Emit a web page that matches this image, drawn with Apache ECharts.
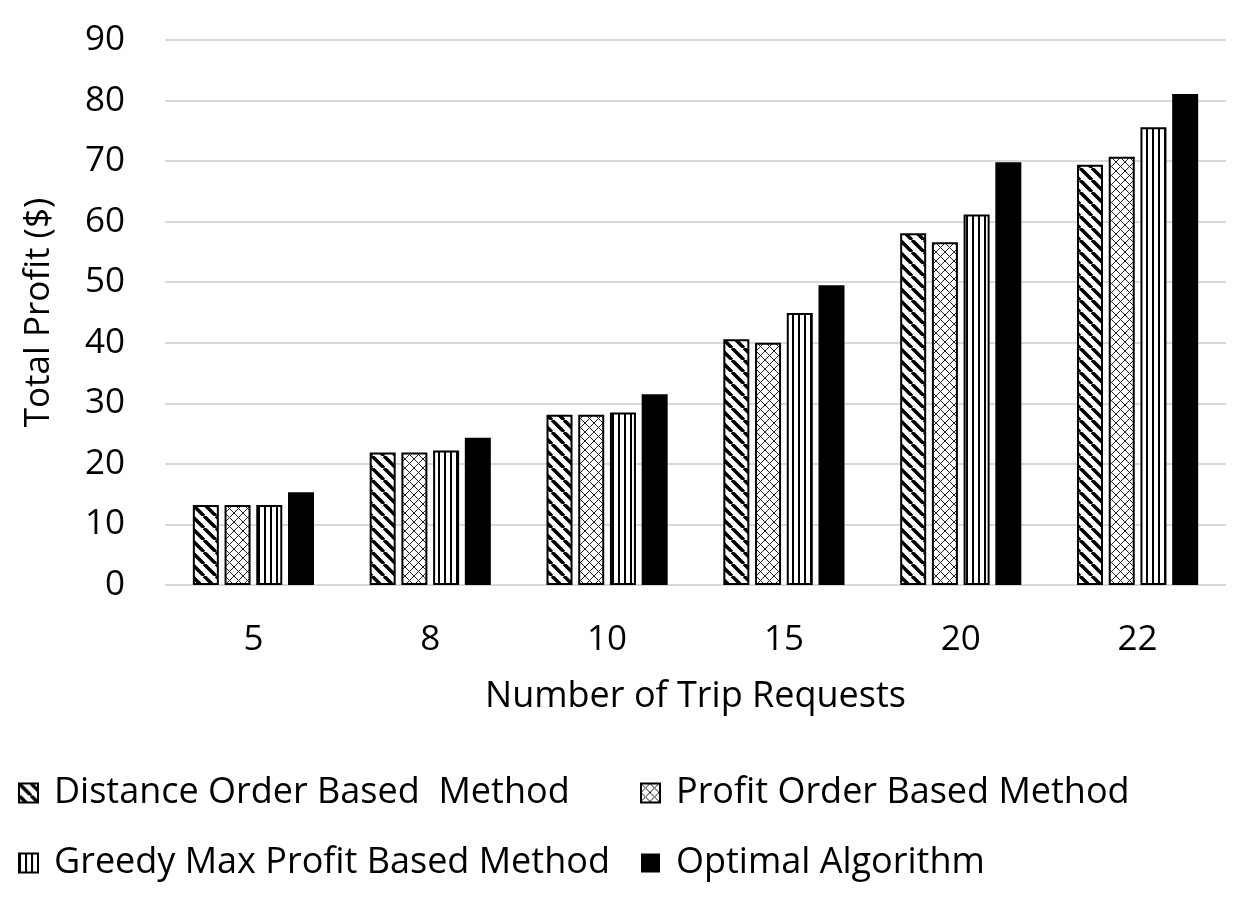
<!DOCTYPE html>
<html>
<head>
<meta charset="utf-8">
<script src="https://cdn.jsdelivr.net/npm/echarts@6/dist/echarts.min.js"></script>
<style>
  html, body { margin: 0; padding: 0; background: #fff; }
  #chart { width: 1246px; height: 912px; }
</style>
</head>
<body>
<div id="chart"></div>
<script>
const categories = ['5', '8', '10', '15', '20', '22']
const seriesNames = [
  'Distance Order Based  Method',
  'Profit Order Based Method',
  'Greedy Max Profit Based Method',
  'Optimal Algorithm'
]
const distanceOrder = [13.2, 21.9, 28.1, 40.6, 58.1, 69.4]
const profitOrder = [13.2, 21.9, 28.1, 40.0, 56.6, 70.7]
const greedyMaxProfit = [13.2, 22.2, 28.5, 44.9, 61.2, 75.6]
const optimal = [15.3, 24.3, 31.5, 49.5, 69.8, 81.1]
const yTicks = { min: 0, max: 90, interval: 10 }

const FONT = 'Open Sans'

// small canvas tiles used as fill patterns
const makeTile = (w, h, draw) => {
  const c = document.createElement('canvas')
  c.width = w
  c.height = h
  const ctx = c.getContext('2d')
  ctx.fillStyle = '#fff'
  ctx.fillRect(0, 0, w, h)
  ctx.strokeStyle = '#000'
  draw(ctx, w, h)
  return { image: c, repeat: 'repeat' }
}

const diagonal = makeTile(12, 12, (ctx, s) => {
  ctx.lineWidth = 3.5
  for (let k = -1; k <= 1; k++) {
    ctx.beginPath()
    ctx.moveTo(k * s, 0)
    ctx.lineTo(k * s + s, s)
    ctx.stroke()
  }
})

const cross = makeTile(9, 9, (ctx, s) => {
  ctx.lineWidth = 1
  ctx.strokeStyle = '#222'
  for (let k = -1; k <= 1; k++) {
    ctx.beginPath()
    ctx.moveTo(k * s, 0)
    ctx.lineTo(k * s + s, s)
    ctx.stroke()
    ctx.beginPath()
    ctx.moveTo(k * s + s, 0)
    ctx.lineTo(k * s, s)
    ctx.stroke()
  }
})

const vertical = makeTile(6, 6, (ctx, w, h) => {
  ctx.fillStyle = '#000'
  ctx.fillRect(0, 0, 2, h)
})

const fills = [diagonal, cross, vertical, '#000']
const values = [distanceOrder, profitOrder, greedyMaxProfit, optimal]

const chart = echarts.init(document.getElementById('chart'))

const legendText = {
  fontFamily: FONT,
  fontSize: 36,
  color: '#000',
  lineHeight: 40,
  padding: [0, 0, 0, 11]
}

const legendBase = {
  orient: 'vertical',
  top: 768,
  itemGap: 30,
  itemWidth: 19,
  itemHeight: 19,
  icon: 'rect',
  textStyle: legendText
}

const option = {
  animation: false,
  backgroundColor: '#fff',
  grid: {
    left: 165,
    right: 20,
    top: 40,
    bottom: 327
  },
  legend: [
    Object.assign({}, legendBase, { left: 13, data: [seriesNames[0], seriesNames[2]] }),
    Object.assign({}, legendBase, { left: 635, data: [seriesNames[1], seriesNames[3]] })
  ],
  xAxis: {
    type: 'category',
    data: categories,
    name: 'Number of Trip Requests',
    nameLocation: 'middle',
    nameGap: 94,
    nameTextStyle: { fontFamily: FONT, fontSize: 36, color: '#000' },
    axisLine: { show: false },
    axisTick: { show: false },
    axisLabel: { margin: 38, fontFamily: FONT, fontSize: 35, color: '#000' }
  },
  yAxis: {
    type: 'value',
    min: yTicks.min,
    max: yTicks.max,
    interval: yTicks.interval,
    name: 'Total Profit ($)',
    nameLocation: 'middle',
    nameGap: 108,
    nameTextStyle: { fontFamily: FONT, fontSize: 35, color: '#000' },
    axisLine: { show: false },
    axisTick: { show: false },
    axisLabel: { margin: 40, fontFamily: FONT, fontSize: 35, color: '#000' },
    splitLine: { lineStyle: { color: '#d9d9d9', width: 2 } }
  },
  series: seriesNames.map((name, i) => ({
    name,
    type: 'bar',
    data: values[i],
    barWidth: 26,
    barGap: '22%',
    itemStyle: {
      color: fills[i],
      borderColor: '#000',
      borderWidth: i === 3 ? 0 : 2
    }
  }))
}

chart.setOption(option)
</script>
</body>
</html>
